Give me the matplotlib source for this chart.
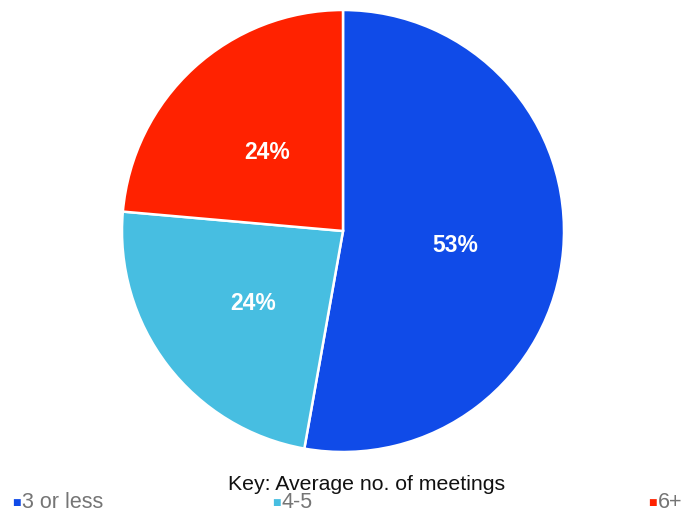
import matplotlib.pyplot as plt

plt.rcParams['font.family'] = ['Liberation Sans', 'DejaVu Sans']

labels = ['3 or less', '4-5', '6+']
values = [52.8, 23.6, 23.6]
colors = ['#104BE8', '#47BEE1', '#FF2200']
legend_title = 'Key: Average no. of meetings'

fig = plt.figure(figsize=(6.84, 5.13), dpi=100)
ax = fig.add_axes([(343 - 221) / 684, (513 - 452) / 513, 442 / 684, 442 / 513])
wedges, texts, autotexts = ax.pie(
    values, colors=colors, startangle=90, counterclock=False,
    autopct='%.0f%%', pctdistance=0.51,
    wedgeprops=dict(edgecolor='white', linewidth=1.8),
    textprops=dict(color='white', fontsize=16.5, fontweight='bold'))
# labels sit a little lower in the original
for t in autotexts:
    x, y = t.get_position()
    t.set_position((x, y - 0.02))
ax.set_xlim(-1, 1)
ax.set_ylim(-1, 1)
ax.set_aspect('equal')

# legend laid out like the original: title centered, items spread across
fig.text(367 / 684, 1 - 490 / 513, legend_title, ha='center', va='baseline',
         fontsize=15.3, color='#111111')
xs = [12 / 684, 272 / 684, 648 / 684]
for x, lab, col in zip(xs, labels, colors):
    fig.text(x, 1 - 502 / 513, '\u25a0', ha='left', va='center',
             fontsize=6.5, color=col, family=['DejaVu Sans'])
    fig.text(x + 10 / 684, 1 - 508 / 513, lab, ha='left', va='baseline',
             fontsize=15.5, color='#757575')

fig.savefig('out.png', dpi=100)
